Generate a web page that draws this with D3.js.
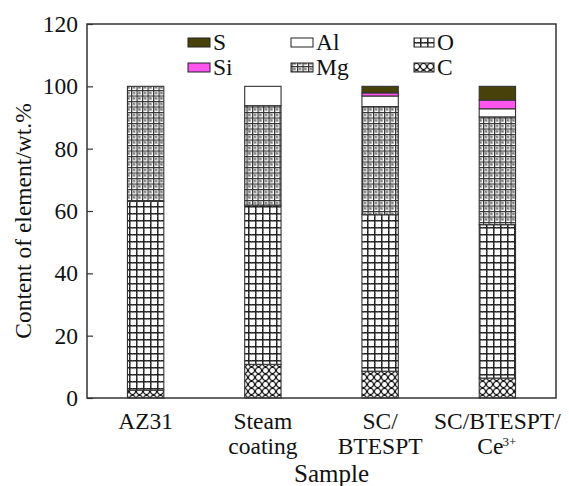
<!DOCTYPE html>
<html>
<head>
<meta charset="utf-8">
<script src="https://cdn.jsdelivr.net/npm/d3@7"></script>
<style>
  body { margin: 0; background: #fff; }
  text { font-family: "Liberation Serif", "DejaVu Serif", serif; }
</style>
</head>
<body>
<svg id="chart" width="569" height="486"></svg>
<script>
// samples on the x axis (line-broken labels)
const samples = ["AZ31", "Steam coating", "SC/BTESPT", "SC/BTESPT/Ce3+"];
const sampleLines = [["AZ31"], ["Steam", "coating"], ["SC/", "BTESPT"], ["SC/BTESPT/", "Ce"]];
// stacking order bottom -> top
const elements = ["C", "O", "Mg", "Al", "Si", "S"];
const C  = [2.5, 10.8, 8.6, 6.4];
const O  = [60.6, 51.1, 50.2, 49.2];
const Mg = [36.9, 31.9, 34.7, 34.6];
const Al = [0, 6.2, 3.4, 2.6];
const Si = [0, 0, 1.0, 2.8];
const S  = [0, 0, 2.1, 4.4];
const yTicks = [0, 20, 40, 60, 80, 100, 120];

const FONT = "'Liberation Serif', 'DejaVu Serif', serif";
const FS = 23.5;
const margin = { top: 24, right: 13, bottom: 88, left: 87 };
const W = 569, H = 486;
const width = W - margin.left - margin.right;
const height = H - margin.top - margin.bottom;

const svg = d3.select("#chart");
const defs = svg.append("defs");

// O: open square grid
const pO = defs.append("pattern").attr("id", "pO").attr("patternUnits", "userSpaceOnUse")
  .attr("width", 7).attr("height", 7);
pO.append("rect").attr("width", 7).attr("height", 7).attr("fill", "#fff");
pO.append("path").attr("d", "M0,0.75H7M0.75,0V7")
  .attr("stroke", "#222").attr("stroke-width", 1.5).attr("fill", "none");
pO.append("path").attr("d", "M3.5,0V1.5M0,3.5H1.5")
  .attr("stroke", "#555").attr("stroke-width", 0.8);

// Mg: dense grid with little stars
const pMg = defs.append("pattern").attr("id", "pMg").attr("patternUnits", "userSpaceOnUse")
  .attr("width", 5.5).attr("height", 5.5);
pMg.append("rect").attr("width", 5.5).attr("height", 5.5).attr("fill", "#fff");
pMg.append("path").attr("d", "M0,0.6H5.5M0.6,0V5.5")
  .attr("stroke", "#333").attr("stroke-width", 1.2);
pMg.append("path").attr("d", "M1.8,1.8L4.2,4.2M4.2,1.8L1.8,4.2M3,1.5V4.5M1.5,3H4.5")
  .attr("stroke", "#666").attr("stroke-width", 0.7);

// C: circles
const pC = defs.append("pattern").attr("id", "pC").attr("patternUnits", "userSpaceOnUse")
  .attr("width", 7).attr("height", 7);
pC.append("rect").attr("width", 7).attr("height", 7).attr("fill", "#fff");
pC.append("circle").attr("cx", 3.5).attr("cy", 3.5).attr("r", 3)
  .attr("fill", "none").attr("stroke", "#111").attr("stroke-width", 1.1);

const fills = { C: "url(#pC)", O: "url(#pO)", Mg: "url(#pMg)", Al: "#fff", Si: "#ff55ee", S: "#48420a" };
const values = { C, O, Mg, Al, Si, S };

const g = svg.append("g").attr("transform", `translate(${margin.left},${margin.top})`);

const x = d3.scaleBand().domain(samples).range([0, width]).paddingInner(0.69).paddingOuter(0.345);
const y = d3.scaleLinear().domain([0, 120]).range([height, 0]);

const table = samples.map((s, i) => {
  const row = { sample: s };
  elements.forEach(e => { row[e] = values[e][i]; });
  return row;
});
const stacked = d3.stack().keys(elements)(table);

g.selectAll(".layer")
  .data(stacked)
  .enter()
  .append("g")
  .attr("class", "layer")
  .attr("fill", d => fills[d.key])
  .selectAll("rect")
  .data(d => d.filter(p => p[1] - p[0] > 0))
  .enter()
  .append("rect")
  .attr("x", d => x(d.data.sample))
  .attr("width", x.bandwidth())
  .attr("y", d => y(d[1]))
  .attr("height", d => y(d[0]) - y(d[1]))
  .attr("stroke", "#333")
  .attr("stroke-width", 1.1);

// frame
g.append("rect").attr("width", width).attr("height", height)
  .attr("fill", "none").attr("stroke", "#333").attr("stroke-width", 1.5);

// y axis, ticks pointing inward
const yAxis = g.append("g")
  .call(d3.axisLeft(y).tickValues(yTicks).tickSizeInner(-6).tickSizeOuter(0).tickPadding(9));
yAxis.attr("font-family", FONT);
yAxis.select(".domain").remove();
yAxis.selectAll("line").attr("stroke", "#333").attr("stroke-width", 1.2);
yAxis.selectAll("text").attr("font-size", FS).attr("fill", "#111")
  .attr("font-family", FONT);

// x labels
const xl = g.append("g").attr("transform", `translate(0,${height})`);
samples.forEach((s, i) => {
  const cx = x(s) + x.bandwidth() / 2;
  const t = xl.append("text")
    .attr("x", cx)
    .attr("text-anchor", "middle")
    .attr("font-family", FONT)
    .attr("font-size", FS)
    .attr("fill", "#111");
  sampleLines[i].forEach((line, j) => {
    t.append("tspan").attr("x", s === "SC/BTESPT/Ce3+" && j === 1 ? cx - 7 : cx)
      .attr("y", 31 + j * 25).text(line);
  });
  if (s === "SC/BTESPT/Ce3+") {
    // superscript as its own small text, so it sits just above the Ce baseline
    xl.append("text")
      .attr("x", cx + 5)
      .attr("y", 31 + 25 - 8)
      .attr("font-family", FONT)
      .attr("font-size", 13)
      .attr("fill", "#111")
      .text("3+");
  }
});

svg.append("text")
  .attr("x", margin.left + width / 2 + 10)
  .attr("y", 482)
  .attr("text-anchor", "middle")
  .attr("font-family", FONT)
  .attr("font-size", 25)
  .attr("fill", "#111")
  .text("Sample");

svg.append("text")
  .attr("transform", `translate(31,${margin.top + height / 2 + 10}) rotate(-90)`)
  .attr("text-anchor", "middle")
  .attr("font-family", FONT)
  .attr("font-size", FS)
  .attr("fill", "#111")
  .text("Content of element/wt.%");

// legend
const legendItems = [
  { key: "S", col: 0, row: 0 }, { key: "Al", col: 1, row: 0 }, { key: "O", col: 2, row: 0 },
  { key: "Si", col: 0, row: 1 }, { key: "Mg", col: 1, row: 1 }, { key: "C", col: 2, row: 1 }
];
const legendX = [188, 291, 414];
const legend = svg.append("g");
legendItems.forEach(it => {
  const lx = legendX[it.col], ly = 38 + it.row * 25;
  legend.append("rect").attr("x", lx).attr("y", ly).attr("width", it.col === 2 ? 20 : 22).attr("height", 9)
    .attr("fill", fills[it.key]).attr("stroke", "#222").attr("stroke-width", 1);
  legend.append("text").attr("x", lx + (it.col === 2 ? 23 : 25)).attr("y", ly + 12)
    .attr("font-family", FONT)
    .attr("font-size", FS).attr("fill", "#111").text(it.key);
});
</script>
</body>
</html>
